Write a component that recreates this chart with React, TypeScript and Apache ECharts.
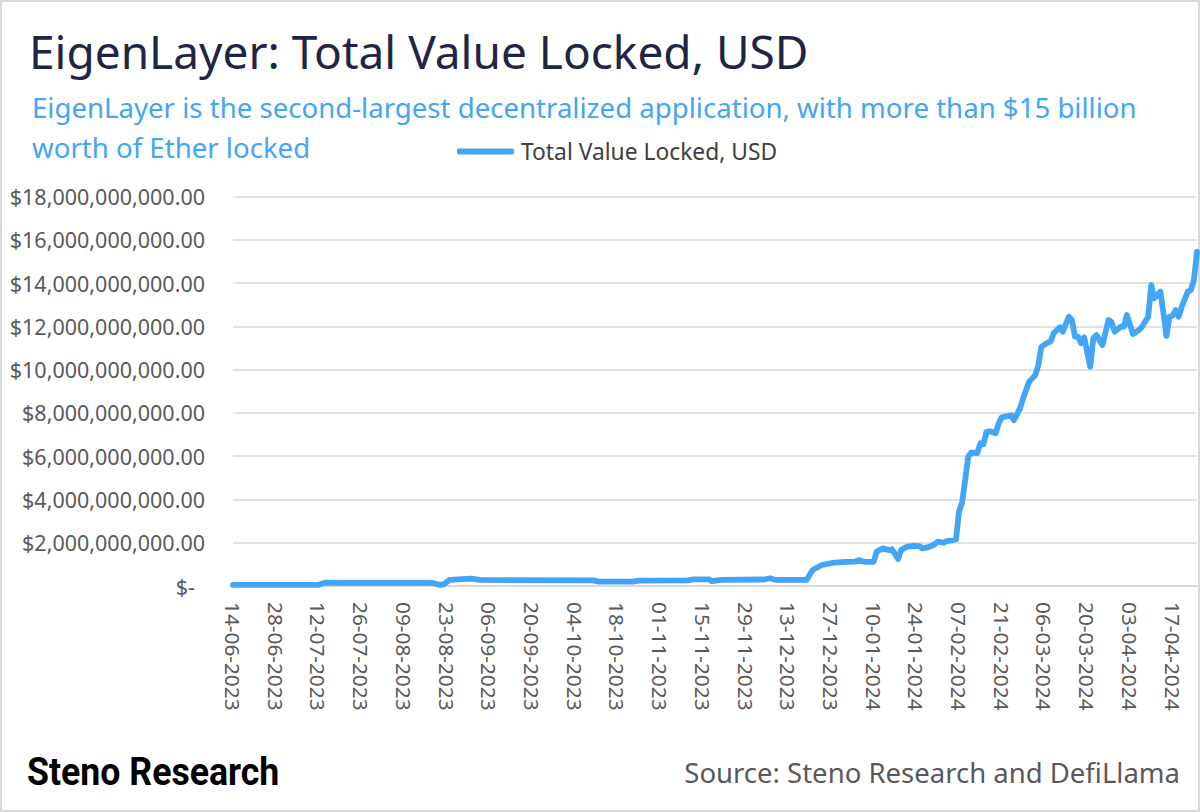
import React, { useEffect, useRef } from 'react';
import * as echarts from 'echarts';

const FONT = '"Noto Sans", "Open Sans", sans-serif';

const startDate = '2023-06-14';
const endDate = '2024-04-25';

const tvlDates = [
  '2023-06-14', '2023-07-12', '2023-07-14', '2023-08-18', '2023-08-21', '2023-08-22', '2023-08-24', '2023-08-31',
  '2023-09-03', '2023-10-10', '2023-10-12', '2023-10-23', '2023-10-25', '2023-11-10', '2023-11-12', '2023-11-17',
  '2023-11-18', '2023-11-21', '2023-12-05', '2023-12-07', '2023-12-09', '2023-12-19', '2023-12-21', '2023-12-24',
  '2023-12-28', '2024-01-01', '2024-01-04', '2024-01-05', '2024-01-07', '2024-01-10', '2024-01-11', '2024-01-13',
  '2024-01-15', '2024-01-16', '2024-01-18', '2024-01-19', '2024-01-21', '2024-01-23', '2024-01-25', '2024-01-26',
  '2024-01-28', '2024-01-30', '2024-01-31', '2024-02-02', '2024-02-03', '2024-02-06', '2024-02-07', '2024-02-08',
  '2024-02-09', '2024-02-10', '2024-02-11', '2024-02-13', '2024-02-14', '2024-02-15', '2024-02-16', '2024-02-17',
  '2024-02-19', '2024-02-20', '2024-02-21', '2024-02-23', '2024-02-24', '2024-02-25', '2024-02-27', '2024-02-28',
  '2024-03-01', '2024-03-03', '2024-03-04', '2024-03-05', '2024-03-07', '2024-03-08', '2024-03-09', '2024-03-11',
  '2024-03-12', '2024-03-14', '2024-03-15', '2024-03-16', '2024-03-17', '2024-03-18', '2024-03-19', '2024-03-21',
  '2024-03-22', '2024-03-23', '2024-03-25', '2024-03-27', '2024-03-28', '2024-03-29', '2024-03-31', '2024-04-01',
  '2024-04-02', '2024-04-03', '2024-04-04', '2024-04-06', '2024-04-07', '2024-04-09', '2024-04-10', '2024-04-11',
  '2024-04-13', '2024-04-14', '2024-04-15', '2024-04-16', '2024-04-17', '2024-04-18', '2024-04-19', '2024-04-20',
  '2024-04-22', '2024-04-23', '2024-04-24', '2024-04-25',
];

// Total value locked, billions of USD
const tvlBillions = [
  0.05, 0.05, 0.15, 0.15, 0.05, 0.07, 0.28, 0.34,
  0.28, 0.26, 0.2, 0.2, 0.25, 0.26, 0.31, 0.31,
  0.22, 0.28, 0.3, 0.36, 0.28, 0.28, 0.74, 0.97,
  1.08, 1.12, 1.13, 1.2, 1.12, 1.12, 1.59, 1.74,
  1.66, 1.7, 1.25, 1.66, 1.82, 1.86, 1.84, 1.74,
  1.8, 1.93, 2.05, 2.0, 2.08, 2.15, 3.45, 3.85,
  4.9, 5.98, 6.17, 6.15, 6.6, 6.55, 7.13, 7.15,
  7.06, 7.52, 7.8, 7.85, 7.9, 7.67, 8.21, 8.68,
  9.45, 9.75, 10.22, 11.06, 11.25, 11.3, 11.68, 11.96,
  11.76, 12.45, 12.3, 11.53, 11.53, 11.22, 11.5, 10.14,
  11.45, 11.6, 11.14, 12.3, 12.2, 11.76, 11.99, 11.99,
  12.53, 12.1, 11.65, 11.84, 11.99, 12.45, 13.92, 13.3,
  13.61, 12.61, 11.56, 12.45, 12.5, 12.76, 12.45, 12.91,
  13.61, 13.69, 14.15, 15.46,
];

const seriesName = 'Total Value Locked, USD';
const titleText = 'EigenLayer: Total Value Locked, USD';
const subtitleLine1 = 'EigenLayer is the second-largest decentralized application, with more than $15 billion';
const subtitleLine2 = 'worth of Ether locked';
const sourceText = 'Source: Steno Research and DefiLlama';
const logoText = 'Steno Research';

const yMin = 0;
const yMax = 18e9;
const yStep = 2e9;

function buildDays(a: string, b: string): string[] {
  const out: string[] = [];
  let t = Date.parse(a + 'T00:00:00Z');
  const e = Date.parse(b + 'T00:00:00Z');
  while (t <= e) {
    out.push(new Date(t).toISOString().slice(0, 10));
    t += 86400000;
  }
  return out;
}

function fmtDate(iso: string): string {
  const [y, m, d] = iso.split('-');
  return `${d}-${m}-${y}`;
}

function fmtMoney(v: number): string {
  if (v === 0) return '{z|$-}';
  const s = Math.round(v).toString().replace(/\B(?=(\d{3})+(?!\d))/g, ',');
  return '$' + s + '.00';
}

export default function App() {
  const ref = useRef<HTMLDivElement>(null);

  useEffect(() => {
    if (!ref.current) return;
    const chart = echarts.init(ref.current, undefined, { renderer: 'svg' });
    const days = buildDays(startDate, endDate);
    const lookup: Record<string, number> = {};
    tvlDates.forEach((d, i) => {
      lookup[d] = tvlBillions[i] * 1e9;
    });
    const data = days.map((d) => (d in lookup ? lookup[d] : null));

    const blue = '#42a5f5';
    const gray = '#595959';

    chart.setOption({
      animation: false,
      backgroundColor: '#ffffff',
      textStyle: { fontFamily: FONT },
      grid: { left: 233, right: 3, top: 196.7, bottom: 226, containLabel: false },
      legend: {
        data: [seriesName],
        left: 452,
        top: 135,
        icon: 'roundRect',
        itemWidth: 57,
        itemHeight: 6,
        itemGap: 10,
        textStyle: { fontFamily: FONT, fontSize: 22.8, color: '#404040', padding: [0, 0, 0, 2] },
      },
      xAxis: {
        type: 'category',
        data: days.map(fmtDate),
        boundaryGap: false,
        axisLine: { show: true, lineStyle: { color: '#d9d9d9', width: 2 } },
        axisTick: { show: false },
        axisLabel: {
          interval: 13,
          rotate: -90,
          margin: 16,
          fontFamily: FONT,
          fontSize: 20.8,
          color: gray,
        },
        splitLine: { show: false },
      },
      yAxis: {
        type: 'value',
        min: yMin,
        max: yMax,
        interval: yStep,
        axisLine: { show: false },
        axisTick: { show: false },
        splitLine: { show: true, lineStyle: { color: '#d9d9d9', width: 1.5 } },
        axisLabel: {
          formatter: fmtMoney,
          margin: 28,
          fontFamily: FONT,
          fontSize: 21.5,
          color: gray,
          rich: { z: { fontFamily: FONT, fontSize: 21.5, color: gray, padding: [0, 10, 0, 0] } },
        },
      },
      series: [
        {
          name: seriesName,
          type: 'line',
          data,
          connectNulls: true,
          showSymbol: false,
          symbol: 'none',
          lineStyle: { color: blue, width: 5.8, join: 'round', cap: 'round' },
          itemStyle: { color: blue },
        },
      ],
      graphic: [
        {
          type: 'rect',
          shape: { x: 1, y: 1, width: 1198, height: 810 },
          style: { fill: 'none', stroke: '#d9d9d9', lineWidth: 2 },
          silent: true,
        },
        {
          type: 'text',
          style: { x: 29, y: 51, text: titleText, font: `46px ${FONT}`, fill: '#1f2544', textVerticalAlign: 'middle' },
        },
        {
          type: 'text',
          style: { x: 32, y: 107, text: subtitleLine1, font: `27.6px ${FONT}`, fill: blue, textVerticalAlign: 'middle' },
        },
        {
          type: 'text',
          style: { x: 32, y: 147, text: subtitleLine2, font: `27.6px ${FONT}`, fill: blue, textVerticalAlign: 'middle' },
        },
        {
          type: 'text',
          x: 27,
          y: 771,
          scaleX: 0.915,
          style: { x: 0, y: 0, text: logoText, font: `bold 39px Roboto, "Noto Sans", sans-serif`, fill: '#000000', textVerticalAlign: 'middle' },
        },
        {
          type: 'text',
          style: { x: 1180, y: 772, text: sourceText, font: `27.5px ${FONT}`, fill: gray, textAlign: 'right', textVerticalAlign: 'middle' },
        },
      ],
    });
    return () => chart.dispose();
  }, []);

  return (
    <div style={{ position: 'fixed', left: 0, top: 0, width: 1200, height: 812, background: '#fff' }}>
      <div ref={ref} style={{ width: 1200, height: 812 }} />
    </div>
  );
}
